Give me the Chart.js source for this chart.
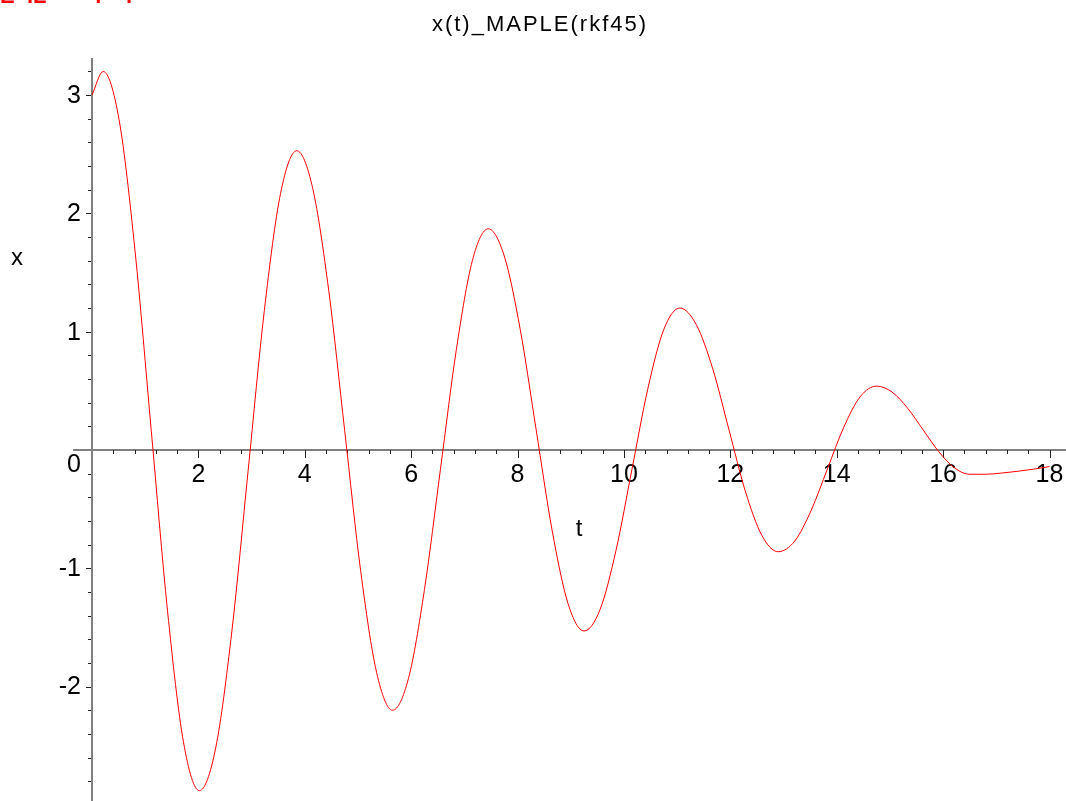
<!DOCTYPE html>
<html>
<head>
<meta charset="utf-8">
<script src="https://cdn.jsdelivr.net/npm/chart.js@4.4.1/dist/chart.umd.min.js"></script>
<style>
html,body{margin:0;padding:0;background:#fff;}
canvas{display:block;}
</style>
</head>
<body>
<canvas id="c" width="1066" height="801"></canvas>
<script>
// ---- data ----
const tValues = [0, 0.21, 0.51, 0.81, 1.115, 1.42, 1.72,
  2.02, 2.325, 2.63, 2.935, 3.24, 3.545,
  3.85, 4.15, 4.45, 4.75, 5.05, 5.35,
  5.65, 5.95, 6.25, 6.55, 6.85, 7.15,
  7.45, 7.75, 8.05, 8.35, 8.65, 8.95,
  9.25, 9.55, 9.85, 10.15, 10.45, 10.75,
  11.05, 11.36, 11.67, 11.975, 12.28, 12.59,
  12.90, 13.21, 13.52, 13.825, 14.13, 14.44,
  14.75, 15.04, 15.33, 15.625, 15.92, 16.21,
  16.5, 16.8, 17.1, 17.4, 17.7, 18.0];
const xValues = [3.00, 3.20, 2.79, 1.68, 0.16, -1.36, -2.47,
  -2.88, -2.52, -1.53, -0.175, 1.18, 2.17,
  2.53, 2.21, 1.35, 0.165, -1.02, -1.88,
  -2.20, -1.93, -1.18, -0.165, 0.85, 1.60,
  1.87, 1.64, 1.02, 0.17, -0.68, -1.30,
  -1.53, -1.35, -0.85, -0.165, 0.52, 1.02,
  1.20, 1.06, 0.685, 0.17, -0.345, -0.72,
  -0.86, -0.77, -0.51, -0.16, 0.19, 0.45,
  0.54, 0.49, 0.355, 0.17, -0.015, -0.15,
  -0.205, -0.205, -0.195, -0.18, -0.162, -0.14];

const xTickLabels = [2, 4, 6, 8, 10, 12, 14, 16, 18];
const yTickLabels = [3, 2, 1, -1, -2];
const xMinorStep = 0.4;
const yMinorStep = 0.2;

const titleText = 'x(t)_MAPLE(rkf45)';
const xAxisTitle = 't';
const yAxisTitle = 'x';

const points = tValues.map((t, i) => ({x: t, y: xValues[i]}));

const FONT = '"Liberation Sans", Arial, sans-serif';

const axesPlugin = {
  id: 'mapleAxes',
  beforeDatasetsDraw(chart) {
    const ctx = chart.ctx;
    const xs = chart.scales.x, ys = chart.scales.y;
    const area = chart.chartArea;
    const x0 = xs.getPixelForValue(0);
    const y0 = ys.getPixelForValue(0);
    ctx.save();
    // axis lines
    ctx.strokeStyle = '#808080';
    ctx.lineWidth = 2;
    ctx.beginPath();
    ctx.moveTo(area.left, Math.round(y0));
    ctx.lineTo(area.right, Math.round(y0));
    ctx.moveTo(Math.round(x0), area.top);
    ctx.lineTo(Math.round(x0), chart.height);
    ctx.stroke();
    // x ticks
    ctx.strokeStyle = '#222';
    ctx.lineWidth = 1;
    ctx.beginPath();
    for (let k = 1; k * xMinorStep <= xs.max + 1e-9; k++) {
      const v = k * xMinorStep;
      const major = xTickLabels.some(m => Math.abs(m - v) < 1e-6);
      const px = Math.round(xs.getPixelForValue(v)) + 0.5;
      ctx.moveTo(px, Math.round(y0));
      ctx.lineTo(px, Math.round(y0) + (major ? 8 : 4));
    }
    // y ticks
    for (let k = Math.ceil(ys.min / yMinorStep); k * yMinorStep <= ys.max + 1e-9; k++) {
      if (k === 0) continue;
      const v = k * yMinorStep;
      const major = yTickLabels.some(m => Math.abs(m - v) < 1e-6);
      const py = Math.round(ys.getPixelForValue(v)) + 0.5;
      ctx.moveTo(Math.round(x0) - 1, py);
      ctx.lineTo(Math.round(x0) - 1 - (major ? 5 : 3), py);
    }
    ctx.stroke();
    // tick labels
    ctx.fillStyle = '#000';
    ctx.font = '25px ' + FONT;
    ctx.textAlign = 'center';
    ctx.textBaseline = 'alphabetic';
    xTickLabels.forEach(v => {
      ctx.fillText(String(v), xs.getPixelForValue(v), y0 + 32);
    });
    ctx.textAlign = 'right';
    ctx.textBaseline = 'middle';
    yTickLabels.forEach(v => {
      ctx.fillText(String(v), x0 - 11, ys.getPixelForValue(v) + 1);
    });
    ctx.textBaseline = 'alphabetic';
    ctx.fillText('0', x0 - 11, y0 + 22);
    // axis titles
    ctx.font = '24px ' + FONT;
    ctx.textAlign = 'center';
    ctx.fillText(yAxisTitle, 17, 265);
    ctx.fillText(xAxisTitle, 579, 536);
    // title
    ctx.font = '22px ' + FONT;
    ctx.textAlign = 'center';
    try { ctx.letterSpacing = '2px'; } catch (e) {}
    ctx.fillText(titleText, 540, 31);
    try { ctx.letterSpacing = '0px'; } catch (e) {}
    // clipped red text at the top-left corner
    ctx.fillStyle = '#ff0000';
    ctx.font = 'bold 22px ' + FONT;
    ctx.textAlign = 'left';
    ctx.fillText('E  iL        i    i', 0, 3);
    ctx.restore();
  }
};

new Chart(document.getElementById('c'), {
  type: 'line',
  data: {
    datasets: [{
      data: points,
      borderColor: '#ff0000',
      borderWidth: 1,
      pointRadius: 0,
      fill: false,
      cubicInterpolationMode: 'monotone'
    }]
  },
  options: {
    responsive: false,
    animation: false,
    devicePixelRatio: 1,
    layout: {padding: {left: 73, right: 0, top: 58, bottom: 1}},
    plugins: {legend: {display: false}, tooltip: {enabled: false}, title: {display: false}},
    scales: {
      x: {type: 'linear', min: -0.357, max: 18.31, display: false},
      y: {type: 'linear', min: -2.959, max: 3.314, display: false}
    }
  },
  plugins: [axesPlugin]
});
</script>
</body>
</html>
